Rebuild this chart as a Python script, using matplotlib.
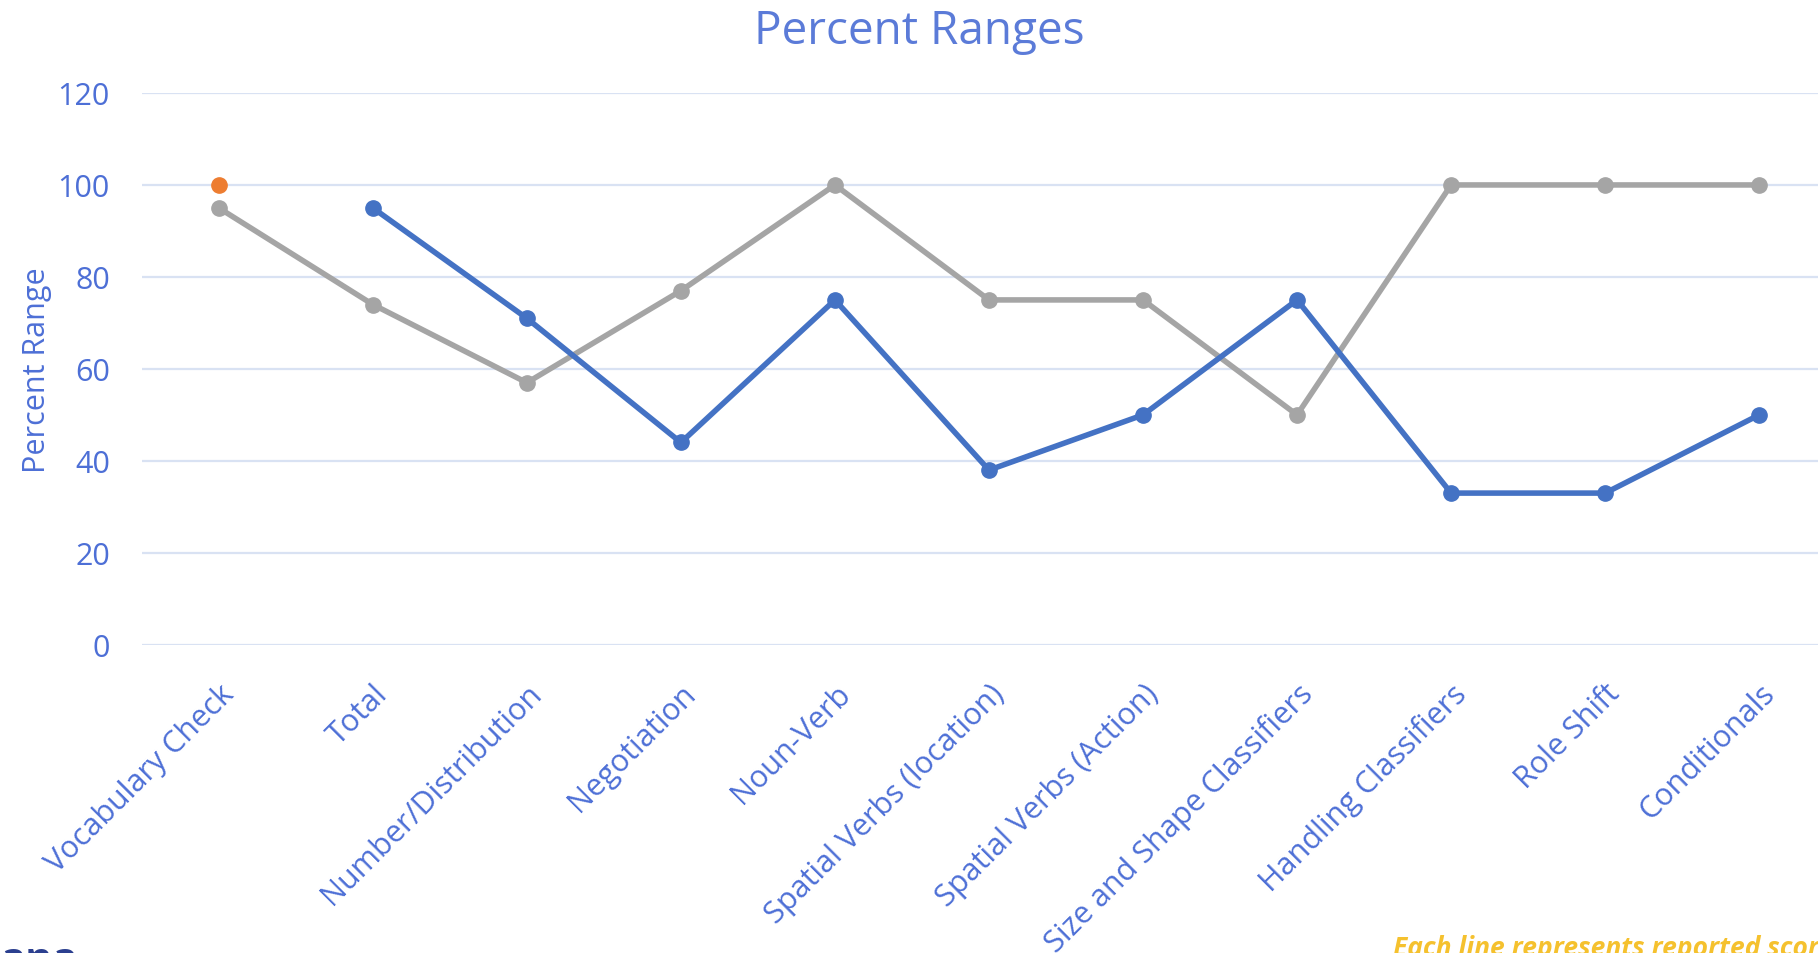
import matplotlib
matplotlib.use("Agg")
import matplotlib.pyplot as plt
import numpy as np

categories = ["Vocabulary Check", "Total", "Number/Distribution", "Negotiation",
              "Noun-Verb", "Spatial Verbs (location)", "Spatial Verbs (Action)",
              "Size and Shape Classifiers", "Handling Classifiers", "Role Shift",
              "Conditionals"]
blue_vals = [np.nan, 95, 71, 44, 75, 38, 50, 75, 33, 33, 50]
gray_vals = [95, 74, 57, 77, 100, 75, 75, 50, 100, 100, 100]
orange_vals = [100] + [np.nan] * 10
yticks = [0, 20, 40, 60, 80, 100, 120]

txt_blue = "#4D6FD6"
plt.rcParams["font.family"] = ["Open Sans", "DejaVu Sans"]

fig = plt.figure(figsize=(18.18, 9.54), dpi=100)
ax = fig.add_axes([0.078, 0.323, 0.932, 0.5785])
x = np.arange(len(categories))

ax.plot(x, gray_vals, color="#A5A5A5", lw=4, marker="o", ms=11, zorder=3)
ax.plot(x, blue_vals, color="#4472C4", lw=4, marker="o", ms=11, zorder=4)
ax.plot(x, orange_vals, color="#ED7D31", lw=4, marker="o", ms=11, zorder=4)

ax.set_xlim(-0.5, len(categories) - 0.5)
ax.set_ylim(0, 120)
ax.set_yticks(yticks)
ax.grid(axis="y", color="#D9E2F3", lw=1.6)
ax.set_axisbelow(True)
for s in ax.spines.values():
    s.set_visible(False)
ax.tick_params(axis="both", length=0, labelsize=22, labelcolor=txt_blue)
ax.tick_params(axis="y", pad=23)
ax.tick_params(axis="x", pad=24)
ax.set_xticks(x)
ax.set_xticklabels(categories, rotation=45, ha="right", rotation_mode="anchor")
ax.set_ylabel("Percent Range", fontsize=22, color=txt_blue, labelpad=4)

fig.text(0.5055, 0.966, "Percent Ranges", fontsize=33, color="#5B7BD8",
         ha="center", va="center")
fig.text(0.0, 0.0136, "ana", fontsize=30, fontweight="bold", color="#2B3F8F",
         ha="left", va="top")
fig.text(0.766, 0.02, "Each line represents reported scores", fontsize=19,
         fontweight="bold", fontstyle="italic", color="#F5C12E",
         ha="left", va="top")

fig.savefig("out.png", dpi=100)
